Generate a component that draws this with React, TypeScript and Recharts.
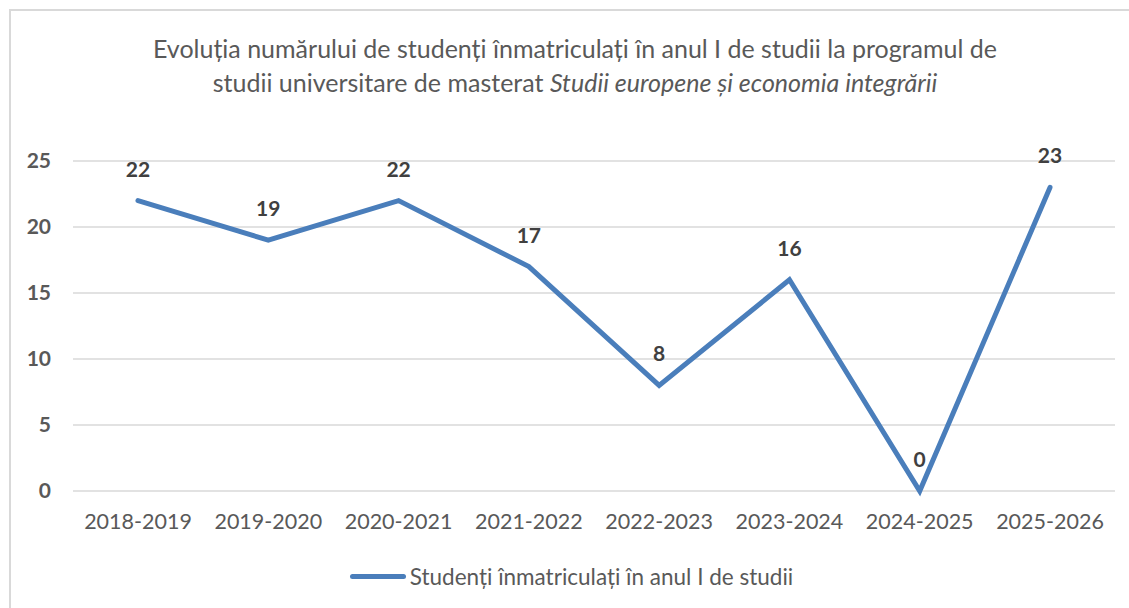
import { LineChart, Line, XAxis, YAxis, CartesianGrid, Legend, LabelList } from 'recharts'

const years = ['2018-2019', '2019-2020', '2020-2021', '2021-2022', '2022-2023', '2023-2024', '2024-2025', '2025-2026']
const students = [22, 19, 22, 17, 8, 16, 0, 23]
const yTicks = [0, 5, 10, 15, 20, 25]
const seriesName = 'Studenți înmatriculați în anul I de studii'

const data = years.map((year, i) => ({ year, students: students[i] }))

const lineColor = '#4a7ebb'
const font = 'Lato, "Open Sans", sans-serif'

function LegendContent() {
    return (
        <div style={{ display: 'flex', alignItems: 'center', justifyContent: 'center', fontFamily: font, height: 25, paddingLeft: 14 }}>
            <span style={{ width: 56, height: 5, borderRadius: 3, background: lineColor, display: 'inline-block' }} />
            <span style={{ fontSize: 22.5, color: '#595959', marginLeft: 4 }}>{seriesName}</span>
        </div>
    )
}

export default function App() {
    return (
        <div style={{ position: 'absolute', left: 0, top: 0, width: 1129, height: 608, background: 'white', overflow: 'hidden' }}>
            <div
                style={{
                    position: 'absolute',
                    left: 9,
                    top: 9,
                    width: 1140,
                    height: 620,
                    border: '2px solid #d9d9d9',
                }}
            />
            <div
                style={{
                    position: 'absolute',
                    left: 0,
                    top: 31,
                    width: 1150,
                    textAlign: 'center',
                    fontFamily: font,
                    fontSize: 25,
                    lineHeight: '34px',
                    color: '#595959',
                }}
            >
                Evoluția numărului de studenți înmatriculați în anul I de studii la programul de
                <br />
                studii universitare de masterat <i>Studii europene și economia integrării</i>
            </div>
            <LineChart
                width={1129}
                height={608}
                data={data}
                margin={{ top: 161, right: 14, left: 0, bottom: 0 }}
                style={{ position: 'absolute', left: 0, top: 0 }}
            >
                <CartesianGrid vertical={false} stroke="#d9d9d9" strokeWidth={1.5} />
                <XAxis
                    dataKey="year"
                    axisLine={false}
                    tickLine={false}
                    tickSize={0}
                    tickMargin={23}
                    height={92}
                    padding={{ left: 65, right: 65 }}
                    interval={0}
                    tick={{ fontSize: 21.5, fill: '#595959', fontFamily: font }}
                />
                <YAxis
                    domain={[0, 25]}
                    ticks={yTicks}
                    width={73}
                    axisLine={false}
                    tickLine={false}
                    tickSize={0}
                    tickMargin={22}
                    tick={{ fontSize: 21, fill: '#595959', fontWeight: 700, fontFamily: font }}
                />
                <Legend
                    verticalAlign="bottom"
                    content={<LegendContent />}
                    wrapperStyle={{ top: 564, left: 0, width: 1129, bottom: 'auto' }}
                />
                <Line
                    type="linear"
                    dataKey="students"
                    name={seriesName}
                    stroke={lineColor}
                    strokeWidth={5}
                    strokeLinecap="round"
                    dot={false}
                    activeDot={false}
                    isAnimationActive={false}
                >
                    <LabelList
                        dataKey="students"
                        position="top"
                        offset={24}
                        style={{ fontSize: 21, fontWeight: 700, fill: '#404040', fontFamily: font }}
                    />
                </Line>
            </LineChart>
        </div>
    )
}
